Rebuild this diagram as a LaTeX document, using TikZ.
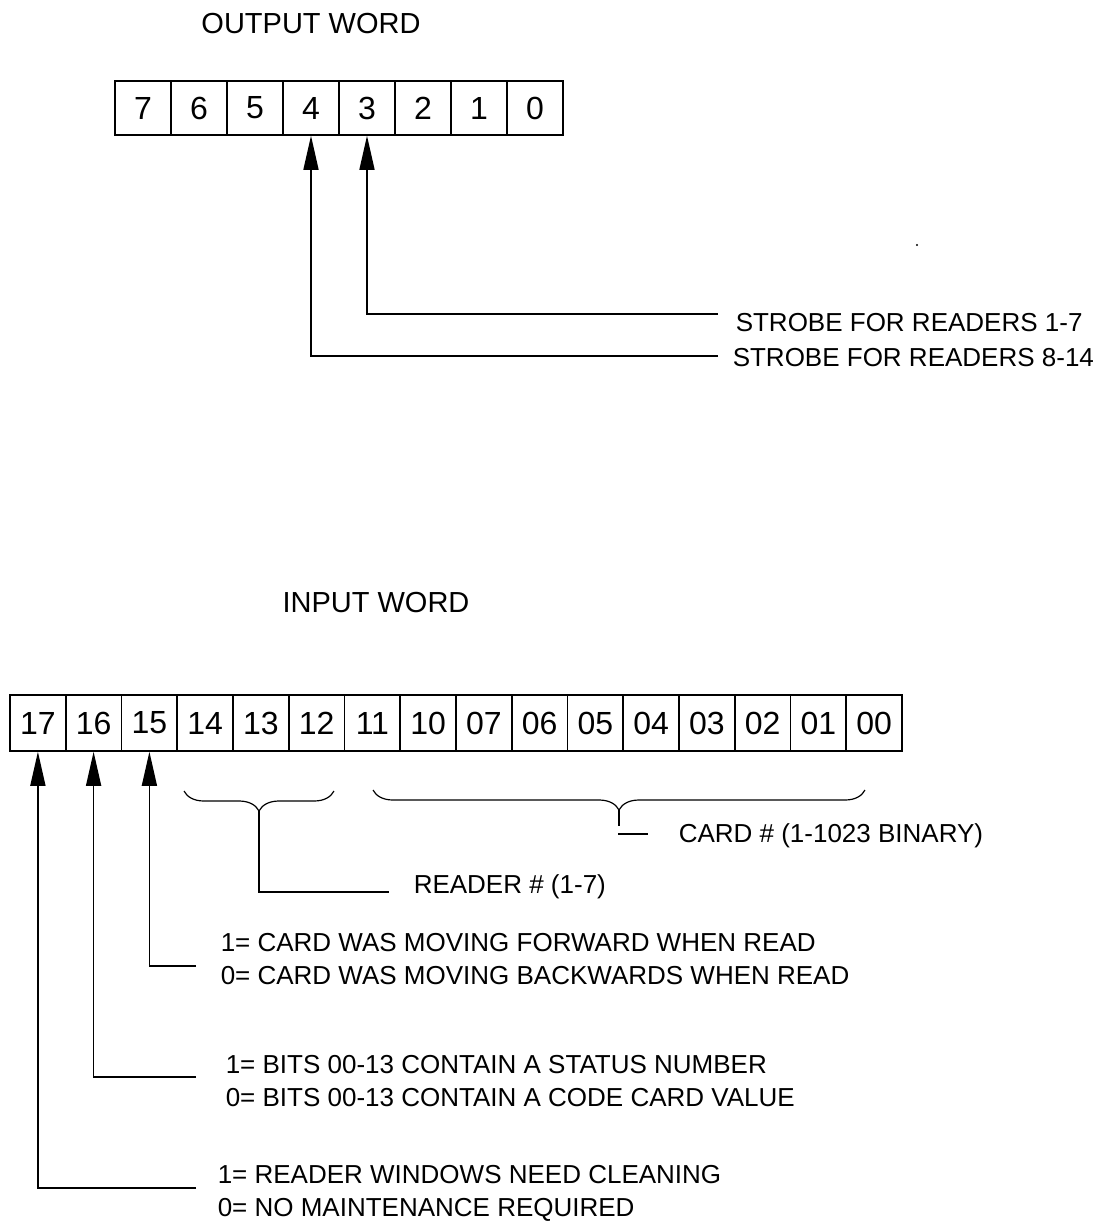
\documentclass[tikz,border=0pt]{standalone}
\usepackage{fontspec}
\setmainfont{Liberation Sans}
\usetikzlibrary{arrows.meta, positioning, decorations.pathreplacing}

\begin{document}
\begin{tikzpicture}[x=1pt, y=-1pt, line width=1.5pt,
    bitcell/.style={draw, minimum height=54pt, minimum width=56pt, inner sep=0pt, font=\fontsize{32}{32}\selectfont},
    incell/.style={bitcell, minimum height=56pt, minimum width=55.75pt},
    lbl/.style={anchor=west, align=left, inner sep=0pt, font=\fontsize{26}{33}\selectfont},
    head/.style={inner sep=0pt, font=\fontsize{29}{29}\selectfont},
    bitarrow/.style={-{Triangle[length=34pt, width=15pt]}},
    brc/.style={decorate, decoration={brace, mirror, amplitude=20pt}, line width=1.2pt}]
  \useasboundingbox (0,0) rectangle (1093,1224);

  % output word
  \node[head] (outw) at (311,24) {OUTPUT WORD};
  \node[bitcell] (o7) at (143,108) {7};
  \node[bitcell] (o6) at (199,108) {6};
  \node[bitcell] (o5) at (255,108) {5};
  \node[bitcell] (o4) at (311,108) {4};
  \node[bitcell] (o3) at (367,108) {3};
  \node[bitcell] (o2) at (423,108) {2};
  \node[bitcell] (o1) at (479,108) {1};
  \node[bitcell] (o0) at (535,108) {0};

  \node[lbl] (s17) at (735,323) {STROBE FOR READERS 1-7};
  \node[lbl] (s814) at (732,358) {STROBE FOR READERS 8-14};
  \coordinate (e3) at (718,314);
  \coordinate (e4) at (718,356);
  \draw[bitarrow] (e3) -| (o3.south);
  \draw[bitarrow] (e4) -| (o4.south);
  \fill (917,245) circle (1.2pt);

  % input word
  \node[head] (inw) at (376,603) {INPUT WORD};
  \node[incell] (i17) at (37.9,723) {17};
  \node[incell] (i16) at (93.6,723) {16};
  \node[incell] (i15) at (149.4,723) {15};
  \node[incell] (i14) at (205.1,723) {14};
  \node[incell] (i13) at (260.9,723) {13};
  \node[incell] (i12) at (316.6,723) {12};
  \node[incell] (i11) at (372.4,723) {11};
  \node[incell] (i10) at (428.1,723) {10};
  \node[incell] (i07) at (483.9,723) {07};
  \node[incell] (i06) at (539.6,723) {06};
  \node[incell] (i05) at (595.4,723) {05};
  \node[incell] (i04) at (651.1,723) {04};
  \node[incell] (i03) at (706.9,723) {03};
  \node[incell] (i02) at (762.6,723) {02};
  \node[incell] (i01) at (818.4,723) {01};
  \node[incell] (i00) at (874.1,723) {00};

  % reader and card fields
  \draw[brc] (184,791) -- (334,791);
  \draw[brc] (373,790) -- (865,790);
  \coordinate (rtip) at (259,811);
  \coordinate (e12) at (389,892);
  \draw (rtip) |- (e12);
  \node[lbl] (rdr) at (413,887) {READER \# (1-7)};
  \coordinate (ctip) at (619,810);
  \coordinate (cstub) at (619,826);
  \draw (ctip) -- (cstub);
  \coordinate (cd1) at (618,834);
  \coordinate (cd2) at (648,834);
  \draw (cd1) -- (cd2);
  \node[lbl] (crd) at (678,836) {CARD \# (1-1023 BINARY)};

  % flag bits
  \node[lbl] (dir) at (220,959) {1= CARD WAS MOVING FORWARD WHEN READ\\0= CARD WAS MOVING BACKWARDS WHEN READ};
  \node[lbl] (sts) at (225,1081) {1= BITS 00-13 CONTAIN A STATUS NUMBER\\0= BITS 00-13 CONTAIN A CODE CARD VALUE};
  \node[lbl] (cln) at (217,1193) {1= READER WINDOWS NEED CLEANING\\0= NO MAINTENANCE REQUIRED};
  \coordinate (e15) at (196,966);
  \coordinate (e16) at (196,1077);
  \coordinate (e17) at (196,1188);
  \draw[bitarrow] (e15) -| (i15.south);
  \draw[bitarrow] (e16) -| (i16.south);
  \draw[bitarrow] (e17) -| (i17.south);
\end{tikzpicture}
\end{document}
